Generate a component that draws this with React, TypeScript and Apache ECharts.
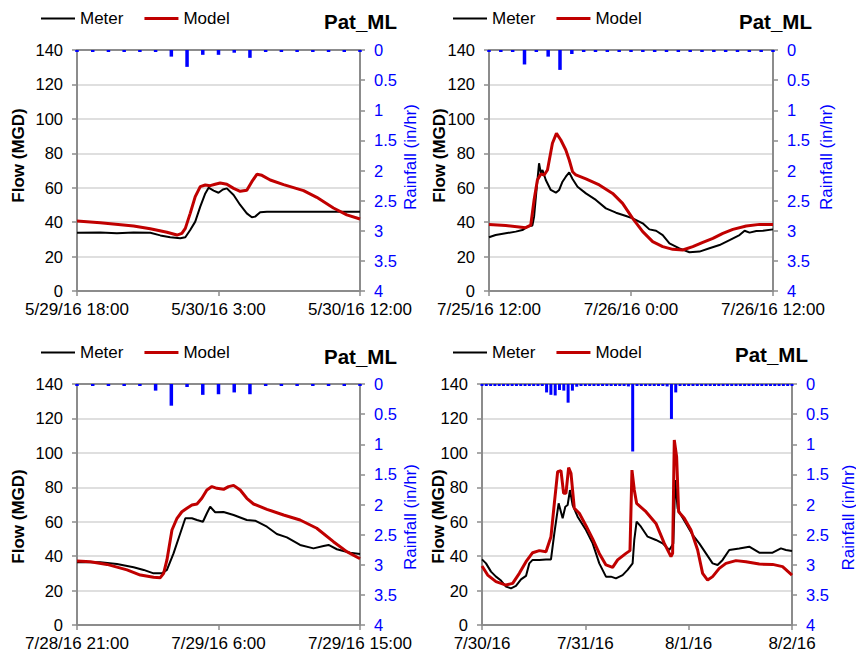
import React, { useEffect, useRef } from 'react';
import * as echarts from 'echarts';

// ---------- Data (x = hours from the panel start) ----------
const meter1 = [[0,33.9],[1.48,34],[2.54,33.5],[3.6,34],[4.66,33.8],[5.3,32.3],[5.93,31.2],[6.57,30.6],[6.89,31.2],[7.2,35.4],[7.52,40.3],[7.84,49],[8.16,56.7],[8.37,60],[8.69,58.3],[9.0,57.1],[9.28,59],[9.53,59.6],[9.96,55.8],[10.38,50],[10.8,45.1],[11.12,42.8],[11.33,43.2],[11.65,45.7],[12.08,46.1],[18,46.1]];
const model1 = [[0,40.7],[1.48,39.7],[3.6,37.8],[4.66,36.2],[5.72,34.1],[6.36,32.5],[6.67,33.5],[6.89,36.4],[7.2,45.1],[7.52,54.8],[7.84,60.6],[8.16,61.6],[8.47,61.2],[8.79,62],[9.11,62.7],[9.53,62],[9.96,59.6],[10.38,57.9],[10.8,58.5],[11.12,63.5],[11.44,67.8],[11.76,67.2],[12.29,64.5],[13.14,61.8],[14.41,58.3],[15.25,54.4],[16.31,48.2],[17.16,44.2],[18,41.8]];
const rain1 = [0,0,0,0,0,0,0.11,0.28,0.08,0.08,0.045,0.13,0,0,0,0,0,0,0];

const meter2 = [[0,31.2],[0.56,32.5],[1.41,33.5],[2.26,34.5],[2.82,35.4],[3.25,37.4],[3.67,38.1],[3.81,43.2],[4.04,60.6],[4.23,74.2],[4.38,68.4],[4.52,70.3],[4.8,64.5],[5.22,58.7],[5.65,57.1],[5.93,58.7],[6.21,63.5],[6.49,66.4],[6.78,68.9],[7.06,65.1],[7.48,60.6],[8.19,56.7],[9.03,52.9],[9.88,48],[10.73,45.5],[11.58,43.6],[12.14,42.2],[12.99,39.3],[13.55,35.8],[14.12,35],[14.68,32.5],[15.25,27.7],[16.09,24.8],[16.94,22.5],[17.79,22.9],[18.63,24.8],[19.48,26.7],[20.33,29.6],[21.17,32.5],[21.6,35],[22.02,33.9],[22.59,34.9],[23.15,35],[24,35.8]];
const model2 = [[0,38.7],[1.41,38.1],[3.11,36.8],[3.53,38.3],[3.81,52.9],[4.09,64.5],[4.38,68],[4.66,67.4],[4.94,70.3],[5.36,85.8],[5.7,91.6],[6.07,87.7],[6.49,81.9],[6.78,76.1],[7.06,69.3],[7.34,67.4],[8.19,65.1],[9.32,61.6],[10.45,56.7],[11.29,50.9],[12.14,42.2],[12.99,34.5],[13.83,28.7],[14.68,25.8],[15.53,24.2],[16.37,23.8],[17.22,25.8],[18.07,28.3],[18.92,30.6],[19.76,33.5],[20.61,35.8],[21.74,37.8],[22.87,38.7],[24,38.7]];
const rain2 = [0,0,0,0.24,0,0.11,0.33,0.066,0,0,0,0,0,0,0,0,0,0,0,0,0,0,0,0,0];

const meter3 = [[0,36.4],[1.48,36.4],[2.54,35.4],[3.6,33.5],[4.24,32],[4.87,30],[5.4,30],[5.72,32],[6.14,41.6],[6.57,53.3],[6.89,62],[7.31,62],[7.63,61],[8.01,60],[8.26,64.9],[8.47,68.7],[8.79,65.5],[9.32,65.6],[9.96,63.9],[10.8,61],[11.33,60.6],[12.08,57.1],[12.71,52.9],[13.35,50.9],[14.19,46.5],[15.04,44.5],[15.68,45.9],[16,46.5],[16.53,44],[17.37,42],[18,41.2]];
const model3 = [[0,37.2],[0.85,36.8],[1.91,35.2],[3.18,32],[4.03,29],[4.87,27.7],[5.3,27.5],[5.51,30],[5.72,37.8],[6.04,55.2],[6.36,62],[6.67,65.8],[6.99,67.8],[7.31,69.7],[7.63,70.3],[7.94,73.6],[8.26,78.4],[8.58,80.4],[8.9,79.4],[9.32,78.8],[9.64,80.4],[9.96,81.1],[10.38,78.4],[10.8,73.6],[11.23,70.3],[12.08,67.2],[13.14,63.9],[14.19,61],[15.25,56.2],[16.31,48.4],[17.16,42.6],[18,38.5]];
const rain3 = [0,0,0,0,0,0.11,0.36,0.05,0.18,0.17,0.14,0.17,0,0,0,0,0,0,0];

const meter4 = [[0,38.1],[0.93,35.8],[2.09,31],[3.25,28.1],[4.41,25.8],[5.57,22.3],[6.73,21.3],[7.89,22.7],[9.06,26.5],[10.22,28.5],[10.99,35.8],[11.76,37.8],[13.31,37.8],[14.86,38.1],[16.02,38.1],[16.8,53.3],[17.8,70.7],[18.73,62],[19.35,68.7],[19.89,69.7],[20.43,78.4],[21.05,69.7],[22.21,62.9],[24.15,55.2],[25.7,47.4],[27.24,35.8],[28.79,28.1],[29.95,28.1],[31.11,27.1],[32.66,29],[33.82,32],[34.98,35.8],[35.37,49.4],[35.91,60],[36.92,57.1],[38.47,51.3],[40.4,49.4],[41.95,47.4],[43.5,43.6],[44.43,47.4],[44.89,84.2],[45.43,67.8],[46.21,63.9],[47.37,59],[48.92,52.3],[50.46,47.4],[52.01,41.6],[53.56,35.8],[54.72,34.9],[55.88,37.8],[57.43,43.6],[59.75,44.5],[62.07,45.5],[64.4,42],[67.49,42],[69.43,44.5],[70.59,43.6],[72,43]];
const model4 = [[0,34.3],[1.32,29],[3.25,25.2],[5.57,23.2],[7.12,24.2],[8.67,30],[10.22,36.8],[11.76,42],[13.31,43.2],[14.86,42.6],[16.02,51.3],[16.8,70.7],[17.57,89.1],[18.34,89.7],[18.96,76.5],[19.5,76.5],[20.12,91.4],[20.67,88.1],[21.44,67.8],[22.6,64.9],[24.15,57.7],[25.7,50],[27.24,41.6],[28.79,34.9],[30.34,33.5],[31.5,37.8],[33.44,41.6],[34.37,43.2],[34.83,90],[35.37,78.4],[35.91,70.7],[38.08,65.8],[40.4,59],[42.34,47.4],[43.89,39.7],[44.27,41.6],[44.66,107.5],[45.2,97.8],[45.67,65.8],[46.98,62],[48.53,55.2],[50.08,43.6],[51.24,30],[52.4,26.1],[53.56,28.1],[55.11,32.9],[56.66,35.8],[58.98,37.4],[61.3,36.8],[64.4,35.4],[67.49,35.2],[69.81,33.9],[72,29]];
const rain4 = [0,0,0,0,0,0,0,0,0,0,0,0,0,0,0,0.14,0.18,0.19,0.10,0.11,0.31,0.11,0.045,0,0.03,0,0,0,0,0,0,0,0,0,0.04,1.12,0,0,0,0,0,0,0,0.04,0.58,0.14,0,0,0,0,0,0,0,0,0,0,0,0,0,0,0,0,0,0,0,0,0,0,0,0,0,0,0];

const startTimes = [[2016,5,29,18],[2016,7,25,12],[2016,7,28,21],[2016,7,30,0]];
const spans = [18, 24, 18, 72];
const steps = [9, 12, 9, 24];
const flowTicks = { min: 0, max: 140, step: 20 };
const rainTicks = { min: 0, max: 4, step: 0.5 };
const seriesNames = ['Meter', 'Model'];
const titleText = 'Pat_ML';
const flowLabel = 'Flow (MGD)';
const rainLabel = 'Rainfall (in/hr)';

// ---------- Layout ----------
const FONT = '"Liberation Sans", Arial, sans-serif';
const AX = '#8c8c8c';
const layout = [
  { grid: { left: 77, top: 50, width: 283, height: 241 }, legend: { left: 41, top: 10 }, title: { left: 324, top: 11 }, flowName: [18.5, 155.5], rainName: [410, 157], barW: 3.5, showTime: true },
  { grid: { left: 489, top: 50, width: 284, height: 241 }, legend: { left: 453, top: 10 }, title: { left: 739, top: 11 }, flowName: [439, 155.5], rainName: [826, 157], barW: 3.5, showTime: true },
  { grid: { left: 77, top: 384, width: 283, height: 241 }, legend: { left: 41, top: 344 }, title: { left: 324, top: 346 }, flowName: [18.5, 516.5], rainName: [410, 517], barW: 3.5, showTime: true },
  { grid: { left: 482, top: 384, width: 310, height: 241 }, legend: { left: 453, top: 344 }, title: { left: 735, top: 344 }, flowName: [438.5, 516.5], rainName: [848, 517.5], barW: 3, showTime: false },
];

const meters = [meter1, meter2, meter3, meter4];
const models = [model1, model2, model3, model4];
const rains = [rain1, rain2, rain3, rain4];

function makeFormatter(i: number) {
  const [y, m, d, h] = startTimes[i];
  const base = Date.UTC(y, m - 1, d, h);
  return (v: number) => {
    const t = new Date(base + v * 3600000);
    const date = `${t.getUTCMonth() + 1}/${t.getUTCDate()}/${String(t.getUTCFullYear()).slice(2)}`;
    if (!layout[i].showTime) return date;
    const mm = String(t.getUTCMinutes()).padStart(2, '0');
    return `${date} ${t.getUTCHours()}:${mm}`;
  };
}

function buildOption() {
  const grid: any[] = [], xAxis: any[] = [], yAxis: any[] = [], series: any[] = [];
  const legend: any[] = [], title: any[] = [], graphic: any[] = [];
  for (let i = 0; i < 4; i++) {
    const L = layout[i];
    grid.push({ ...L.grid, containLabel: false });
    xAxis.push({
      type: 'value', gridIndex: i, min: 0, max: spans[i], interval: steps[i], position: 'bottom',
      axisLine: { show: true, onZero: false, lineStyle: { color: AX, width: 2 } },
      axisTick: { show: true, length: 5, lineStyle: { color: AX, width: 1.5 } },
      axisLabel: { formatter: makeFormatter(i), fontSize: 17, color: '#000', fontFamily: FONT, margin: 10, showMinLabel: true, showMaxLabel: true, hideOverlap: false },
      splitLine: { show: false },
    });
    xAxis.push({
      type: 'value', gridIndex: i, min: 0, max: spans[i], position: 'top',
      axisLine: { show: true, onZero: false, lineStyle: { color: AX, width: 2 } },
      axisTick: { show: false }, axisLabel: { show: false }, splitLine: { show: false },
    });
    yAxis.push({
      type: 'value', gridIndex: i, min: flowTicks.min, max: flowTicks.max, interval: flowTicks.step, position: 'left',
      axisLine: { show: true, onZero: false, lineStyle: { color: AX, width: 2 } },
      axisTick: { show: true, length: 5, lineStyle: { color: AX, width: 1.5 } },
      axisLabel: { fontSize: 16.5, color: '#000', fontFamily: FONT, margin: 14 },
      splitLine: { show: true, lineStyle: { color: '#d4d4d4', width: 1.5 } },
    });
    yAxis.push({
      type: 'value', gridIndex: i, min: rainTicks.min, max: rainTicks.max, interval: rainTicks.step, position: 'right', inverse: true,
      axisLine: { show: true, onZero: false, lineStyle: { color: AX, width: 2 } },
      axisTick: { show: true, length: 5, lineStyle: { color: AX, width: 1.5 } },
      axisLabel: { fontSize: 16.5, color: '#0000FF', fontFamily: FONT, margin: 14 },
      splitLine: { show: false },
    });
    const barW = L.barW;
    series.push({
      type: 'custom', name: 'Rainfall', xAxisIndex: 2 * i + 1, yAxisIndex: 2 * i + 1,
      data: rains[i].map((v, h) => [h, v]),
      encode: { x: 0, y: 1 },
      renderItem: (params: any, api: any) => {
        const x = api.value(0), v = api.value(1);
        const p0 = api.coord([x, 0]);
        const p1 = api.coord([x, v]);
        const h = Math.max(p1[1] - p0[1], 2);
        return { type: 'rect', shape: { x: p0[0] - barW / 2, y: p0[1], width: barW, height: h }, style: { fill: '#0000FF' } };
      },
      z: 4,
    });
    series.push({
      type: 'line', name: seriesNames[0], xAxisIndex: 2 * i, yAxisIndex: 2 * i, data: meters[i],
      symbol: 'none', smooth: false, lineStyle: { color: '#000000', width: 2 }, itemStyle: { color: '#000000' }, z: 3,
    });
    series.push({
      type: 'line', name: seriesNames[1], xAxisIndex: 2 * i, yAxisIndex: 2 * i, data: models[i],
      symbol: 'none', smooth: false, lineStyle: { color: '#C00000', width: 3 }, itemStyle: { color: '#C00000' }, z: 3,
    });
    legend.push({
      data: [
        { name: seriesNames[0], icon: 'path://M0 0H34V2H0Z' },
        { name: seriesNames[1], icon: 'path://M0 0H34V3.2H0Z' },
      ],
      left: L.legend.left, top: L.legend.top, orient: 'horizontal', symbolKeepAspect: true,
      itemWidth: 34, itemHeight: 14, itemGap: 21, padding: 0, selectedMode: false,
      textStyle: { fontSize: 17, color: '#000', fontFamily: FONT },
    });
    title.push({
      text: titleText, left: L.title.left, top: L.title.top, padding: 0,
      textStyle: { fontSize: 20.5, fontWeight: 'bold', color: '#000', fontFamily: FONT },
    });
    graphic.push({
      type: 'text', x: L.flowName[0], y: L.flowName[1], rotation: Math.PI / 2,
      style: { text: flowLabel, fontSize: 17, fontWeight: 'bold', fontFamily: FONT, fill: '#000', align: 'center', verticalAlign: 'middle' },
    });
    graphic.push({
      type: 'text', x: L.rainName[0], y: L.rainName[1], rotation: Math.PI / 2,
      style: { text: rainLabel, fontSize: 17, fontFamily: FONT, fill: '#0000FF', align: 'center', verticalAlign: 'middle' },
    });
  }
  return { animation: false, backgroundColor: '#ffffff', grid, xAxis, yAxis, series, legend, title, graphic };
}

export default function App() {
  const ref = useRef<HTMLDivElement>(null);
  useEffect(() => {
    document.body.style.margin = '0';
    const chart = echarts.init(ref.current!, null, { renderer: 'svg' });
    chart.setOption(buildOption() as any);
    return () => chart.dispose();
  }, []);
  return <div ref={ref} style={{ width: 856, height: 654 }} />;
}
